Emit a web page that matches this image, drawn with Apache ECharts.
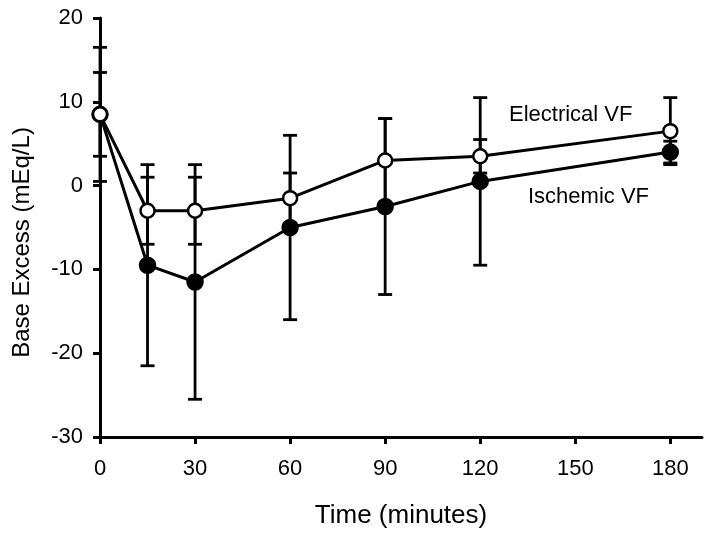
<!DOCTYPE html>
<html>
<head>
<meta charset="utf-8">
<script src="https://cdn.jsdelivr.net/npm/echarts@6/dist/echarts.min.js"></script>
<style>html,body{margin:0;padding:0;background:#fff}#c{width:712px;height:534px}</style>
</head>
<body>
<div id="c"></div>
<script>
var times = [0, 15, 30, 60, 90, 120, 180];
var electricalMean = [8.5, -3, -3, -1.5, 3, 3.5, 6.5];
var electricalSD = [8, 4, 4, 3, 5, 2, 4];
var ischemicMean = [8.5, -9.5, -11.5, -5, -2.5, 0.5, 4];
var ischemicSD = [5, 12, 14, 11, 10.5, 10, 1.3];
var xTicks = [0, 30, 60, 90, 120, 150, 180];
var yTicks = [-30, -20, -10, 0, 10, 20];
var electricalName = 'Electrical VF';
var ischemicName = 'Ischemic VF';

var FONT = '"Liberation Sans", Arial, sans-serif';

function pts(mean) { return times.map(function (t, i) { return [t, mean[i]]; }); }
function bars(mean, sd) { return times.map(function (t, i) { return [t, mean[i] - sd[i], mean[i] + sd[i]]; }); }

function errRender(params, api) {
  var x = api.value(0);
  var lo = api.coord([x, api.value(1)]);
  var hi = api.coord([x, api.value(2)]);
  var hw = 7;
  var st = { stroke: '#000', lineWidth: 2.8 };
  return {
    type: 'group',
    children: [
      { type: 'line', shape: { x1: lo[0], y1: lo[1], x2: hi[0], y2: hi[1] }, style: st },
      { type: 'line', shape: { x1: lo[0] - hw, y1: lo[1], x2: lo[0] + hw, y2: lo[1] }, style: st },
      { type: 'line', shape: { x1: hi[0] - hw, y1: hi[1], x2: hi[0] + hw, y2: hi[1] }, style: st }
    ]
  };
}

var chart = echarts.init(document.getElementById('c'), null, { renderer: 'canvas' });
chart.setOption({
  animation: false,
  backgroundColor: '#fff',
  grid: { left: 100, top: 18, right: 10, bottom: 97, containLabel: false },
  xAxis: {
    type: 'value', min: 0, max: 190, interval: 30,
    name: 'Time (minutes)', nameLocation: 'middle', nameGap: 66,
    nameTextStyle: { fontFamily: FONT, fontSize: 26, color: '#000' },
    axisLine: { show: true, onZero: false, lineStyle: { color: '#000', width: 3 } },
    axisTick: { show: true, length: 7, lineStyle: { color: '#000', width: 3 }, customValues: xTicks },
    axisLabel: { fontFamily: FONT, fontSize: 22, color: '#000', margin: 21, customValues: xTicks },
    splitLine: { show: false }
  },
  yAxis: {
    type: 'value', min: -30, max: 20, interval: 10,
    name: 'Base Excess (mEq/L)', nameLocation: 'middle', nameGap: 66,
    nameTextStyle: { fontFamily: FONT, fontSize: 24, color: '#000', padding: [0, 30, 0, 0] },
    axisLine: { show: true, onZero: false, lineStyle: { color: '#000', width: 3 } },
    axisTick: { show: true, length: 7, lineStyle: { color: '#000', width: 3 }, customValues: yTicks },
    axisLabel: { fontFamily: FONT, fontSize: 22, color: '#000', margin: 17, customValues: yTicks },
    splitLine: { show: false }
  },
  series: [
    { type: 'custom', name: 'ischemicErr', renderItem: errRender, data: bars(ischemicMean, ischemicSD), z: 1, encode: { x: 0, y: [1, 2] }, silent: true },
    { type: 'custom', name: 'electricalErr', renderItem: errRender, data: bars(electricalMean, electricalSD), z: 1, encode: { x: 0, y: [1, 2] }, silent: true },
    {
      type: 'line', name: ischemicName, data: pts(ischemicMean), z: 3,
      symbol: 'circle', symbolSize: 16, showAllSymbol: true,
      lineStyle: { color: '#000', width: 3 },
      itemStyle: { color: '#000', borderColor: '#000', borderWidth: 1.5 }
    },
    {
      type: 'line', name: electricalName, data: pts(electricalMean), z: 4,
      symbol: 'circle', symbolSize: 14, showAllSymbol: true,
      lineStyle: { color: '#000', width: 3 },
      itemStyle: { color: '#fff', borderColor: '#000', borderWidth: 2.5 }
    }
  ],
  graphic: [
    { type: 'text', left: 509, top: 104, style: { text: electricalName, font: '22px ' + FONT, fill: '#000' } },
    { type: 'text', left: 528, top: 186, style: { text: ischemicName, font: '22px ' + FONT, fill: '#000' } }
  ]
});
</script>
</body>
</html>
